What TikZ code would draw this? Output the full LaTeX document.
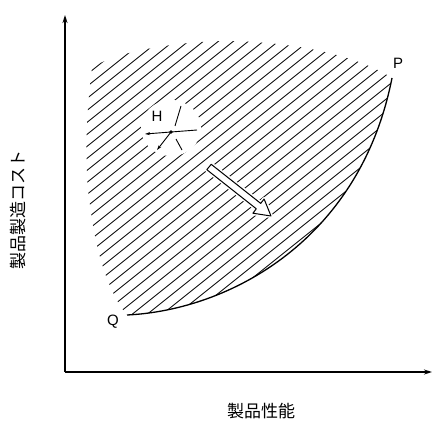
\documentclass[tikz,border=0pt]{standalone}
\usepackage{fontspec}
\newfontfamily\jp{Noto Sans CJK JP}
\newfontfamily\lat{Liberation Sans}
\usetikzlibrary{arrows.meta}
\tikzset{
  axis/.style={line width=1.3pt,-{Stealth[length=8pt,width=5pt]}},
  hatchline/.style={line width=0.8pt},
  curveline/.style={line width=1.3pt},
  lbl/.style={font=\lat\fontsize{15}{15}\selectfont, inner sep=0pt},
  jlbl/.style={font=\jp\fontsize{17}{17}\selectfont, inner sep=0pt},
  spoke/.style={line width=0.9pt},
}
\begin{document}
\begin{tikzpicture}[x=1pt,y=-1pt]
\useasboundingbox (0,0) rectangle (433,422);
\fill[white] (0,0) rectangle (433,422);
\coordinate (O) at (65,372);
\coordinate (Ytop) at (65,15);
\coordinate (Xend) at (432,372);
\coordinate (Q) at (127,315);
\coordinate (P) at (392,78);
% hatched region
\begin{scope}
\clip (Q) .. controls (230,310) and (360,240) .. (P)
      .. controls (345,48) and (260,38) .. (200,42)
      .. controls (150,46) and (108,56) .. (92,68)
      .. controls (85,120) and (85,175) .. (90,205)
      .. controls (96,255) and (110,295) .. (Q) -- cycle;
\foreach \x in {-390,-375,...,270}
  \draw[hatchline] (\x,420) -- ++(525,-420);
\end{scope}
% blank around H
\fill[white] (171,128) ellipse [x radius=30, y radius=28];
% curve Q-P
\draw[curveline] (Q) .. controls (230,310) and (360,240) .. (P);
% axes
\draw[axis] (O) -- (Ytop);
\draw[axis] (O) -- (Xend);
% H point
\node[circle, fill, inner sep=1.4pt] (h) at (171,132) {};
\coordinate (hl) at (145,134);
\coordinate (hr) at (197,130);
\coordinate (hu1) at (175,126);
\coordinate (hu2) at (181,106);
\coordinate (hdl) at (157,150);
\coordinate (hdr1) at (176,139);
\coordinate (hdr2) at (182,150);
\draw[spoke,-{Stealth[length=5pt,width=3pt]}] (h.center) -- (hl);
\draw[spoke] (h.center) -- (hr);
\draw[spoke] (hu1) -- (hu2);
\draw[spoke,-{Stealth[length=5pt,width=3pt]}] (h.center) -- (hdl);
\draw[spoke] (hdr1) -- (hdr2);
\node[lbl] (H) at (157,116) {H};
% big hollow arrow
\draw[white, line width=4pt, line join=round]
  (206.8,169.7) -- (211.2,164.3) -- (260.7,203.4) -- (264.1,199.0) -- (271,216)
  -- (252.9,213.2) -- (256.3,208.8) -- cycle;
\draw[line width=1pt, fill=white, line join=round]
  (206.8,169.7) -- (211.2,164.3) -- (260.7,203.4) -- (264.1,199.0) -- (271,216)
  -- (252.9,213.2) -- (256.3,208.8) -- cycle;
% labels
\node[lbl] (Pl) at (398,63) {P};
\node[lbl] (Ql) at (113,322) {Q};
\node[jlbl, rotate=90] (yl) at (18,210) {製品製造コスト};
\node[jlbl] (xl) at (261,411) {製品性能};
\end{tikzpicture}
\end{document}
